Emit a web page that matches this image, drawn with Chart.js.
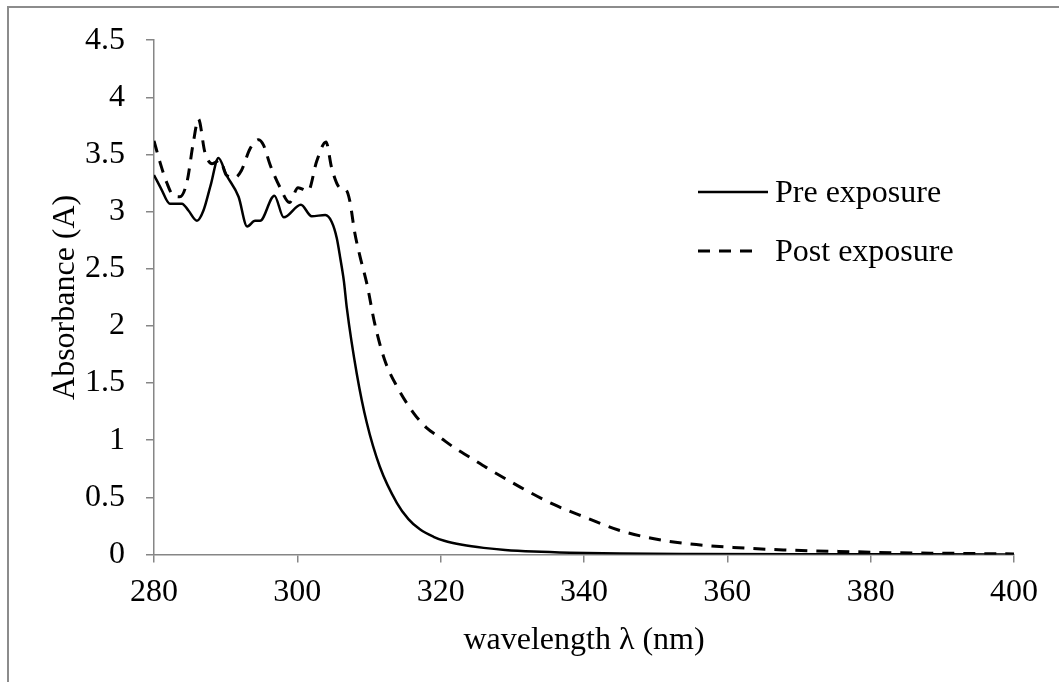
<!DOCTYPE html>
<html>
<head>
<meta charset="utf-8">
<script src="https://cdn.jsdelivr.net/npm/chart.js@4/dist/chart.umd.min.js"></script>
<style>
  body { margin: 0; background: #fff; }
  #chart { display: block; }
</style>
</head>
<body>
<canvas id="chart" width="1059" height="682"></canvas>
<script>
// Values
const seriesNames = ["Pre exposure", "Post exposure"];

const preWavelength = [280, 281, 282.2, 283.9, 284.8, 286.0, 286.9, 287.9, 289.0, 290.1, 291.8, 293.0, 294.1, 294.8, 296.8, 298.1, 300.5, 302.0, 303.9, 304.8, 305.5, 306.0, 306.5, 306.9, 308.3, 309.7, 311.5, 313.9, 315.5, 317.1, 319.0, 320.5, 323.0, 326.0, 329.0, 333.0, 338.0, 345, 355, 370, 400];
const preAbsorbance = [3.32, 3.20, 3.07, 3.07, 3.01, 2.92, 3.01, 3.23, 3.47, 3.32, 3.13, 2.87, 2.92, 2.92, 3.14, 2.95, 3.06, 2.96, 2.97, 2.91, 2.77, 2.59, 2.39, 2.16, 1.58, 1.15, 0.77, 0.45, 0.31, 0.22, 0.155, 0.12, 0.085, 0.058, 0.04, 0.026, 0.016, 0.009, 0.005, 0.003, 0.001];

const postWavelength = [280, 280.8, 281.8, 282.7, 283.6, 284.6, 285.5, 286.2, 287.1, 288.1, 289.2, 290.1, 291.3, 292.2, 293.4, 294.6, 295.3, 296.2, 297.6, 298.9, 300.1, 301.5, 302.7, 304.0, 304.8, 305.9, 306.8, 307.3, 308.0, 308.7, 309.7, 310.8, 312.2, 313.9, 316.2, 318.0, 320.0, 322.0, 324.1, 326.4, 331.1, 335.7, 340.4, 345.0, 349.6, 354.3, 360.8, 367.8, 377, 384, 392, 400];
const postAbsorbance = [3.62, 3.44, 3.25, 3.14, 3.13, 3.26, 3.61, 3.81, 3.52, 3.42, 3.45, 3.32, 3.30, 3.36, 3.55, 3.63, 3.58, 3.41, 3.21, 3.08, 3.21, 3.18, 3.44, 3.61, 3.38, 3.21, 3.19, 3.10, 2.82, 2.62, 2.37, 2.02, 1.70, 1.47, 1.24, 1.11, 1.02, 0.93, 0.85, 0.76, 0.59, 0.44, 0.32, 0.21, 0.14, 0.095, 0.062, 0.04, 0.025, 0.015, 0.01, 0.005];

const xTitle = "wavelength λ (nm)";
const yTitle = "Absorbance (A)";

const serif = "'Liberation Serif', 'Times New Roman', serif";
const axisGray = "#868686";

function toPoints(xs, ys) {
  return xs.map((x, i) => ({ x: x, y: ys[i] }));
}

// White page with the gray frame round it
const framePlugin = {
  id: "frame",
  beforeDraw(chart) {
    const ctx = chart.ctx;
    ctx.save();
    ctx.fillStyle = "#fff";
    ctx.fillRect(0, 0, chart.width, chart.height);
    ctx.strokeStyle = "#8c8c8c";
    ctx.lineWidth = 2;
    ctx.beginPath();
    ctx.moveTo(8, chart.height);
    ctx.lineTo(8, 7);
    ctx.lineTo(chart.width, 7);
    ctx.stroke();
    ctx.restore();
  },
};

// Legend drawn inside the plot, like the original
const legendPlugin = {
  id: "insideLegend",
  afterDraw(chart) {
    const ctx = chart.ctx;
    const rows = [
      { y: 192, len: 70 },
      { y: 251, len: 54 },
    ];
    ctx.save();
    chart.data.datasets.forEach((ds, i) => {
      const r = rows[i];
      ctx.strokeStyle = ds.borderColor;
      ctx.lineWidth = ds.borderWidth;
      ctx.setLineDash(ds.borderDash || []);
      ctx.beginPath();
      ctx.moveTo(698, r.y);
      ctx.lineTo(698 + r.len, r.y);
      ctx.stroke();
      ctx.setLineDash([]);
      ctx.fillStyle = "#000";
      ctx.font = "32px " + serif;
      ctx.textBaseline = "middle";
      ctx.fillText(ds.label, 775, r.y + 2);
    });
    ctx.restore();
  },
};

let ctx = document.getElementById("chart").getContext("2d");

let chart = new Chart(ctx, {
  type: "line",
  data: {
    datasets: [
      {
        label: seriesNames[0],
        data: toPoints(preWavelength, preAbsorbance),
        borderColor: "#000",
        borderWidth: 2.5,
        pointRadius: 0,
        cubicInterpolationMode: "monotone",
      },
      {
        label: seriesNames[1],
        data: toPoints(postWavelength, postAbsorbance),
        borderColor: "#000",
        borderWidth: 3,
        borderDash: [12, 9],
        pointRadius: 0,
        cubicInterpolationMode: "monotone",
      },
    ],
  },
  options: {
    responsive: false,
    animation: false,
    devicePixelRatio: 1,
    layout: { padding: { top: 38, right: 45, left: 0, bottom: 0 } },
    plugins: {
      legend: { display: false },
      tooltip: { enabled: false },
    },
    scales: {
      x: {
        type: "linear",
        min: 280,
        max: 400,
        afterFit(scale) {
          scale.height = 127.5;
        },
        ticks: {
          stepSize: 20,
          color: "#000",
          padding: 11,
          maxRotation: 0,
          font: { family: serif, size: 32 },
        },
        grid: {
          drawOnChartArea: false,
          drawTicks: true,
          tickLength: 8,
          color: axisGray,
          lineWidth: 1.5,
        },
        border: { color: axisGray, width: 1.5 },
        title: {
          display: true,
          text: xTitle,
          color: "#000",
          font: { family: serif, size: 32 },
          padding: { top: 0, bottom: 22 },
        },
      },
      y: {
        min: 0,
        max: 4.5,
        afterFit(scale) {
          scale.width = 154;
        },
        ticks: {
          stepSize: 0.5,
          color: "#000",
          padding: 21,
          font: { family: serif, size: 32 },
          // 0, 0.5, 1, 1.5 ... like Excel shows them
          callback: (value) => String(Math.round(value * 10) / 10),
        },
        grid: {
          drawOnChartArea: false,
          drawTicks: true,
          tickLength: 8,
          color: axisGray,
          lineWidth: 1.5,
        },
        border: { color: axisGray, width: 1.5 },
        title: {
          display: true,
          text: yTitle,
          color: "#000",
          font: { family: serif, size: 32 },
          padding: { top: 46, bottom: 0 },
        },
      },
    },
  },
  plugins: [framePlugin, legendPlugin],
});
</script>
</body>
</html>
